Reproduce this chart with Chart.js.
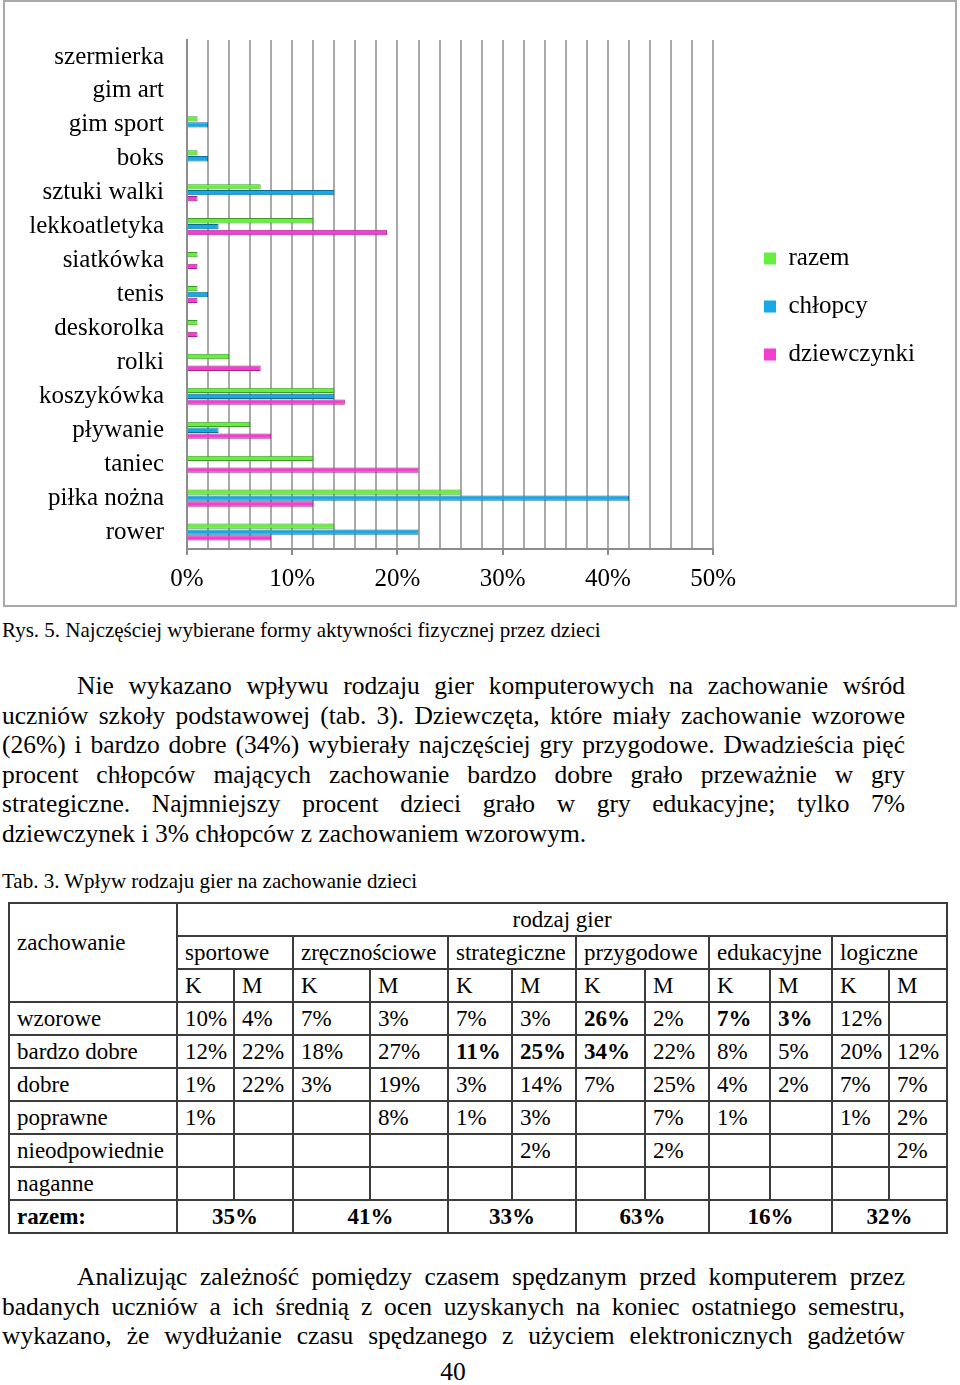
<!DOCTYPE html>
<html lang="pl">
<head>
<meta charset="utf-8">
<title>Rys. 5</title>
<script src="https://cdn.jsdelivr.net/npm/chart.js@4.4.1/dist/chart.umd.min.js"></script>
<style>
  body { margin: 0; background: #fff; }
  #strona { position: relative; width: 960px; height: 1385px; overflow: hidden; font-family: "Liberation Serif", "Times New Roman", serif; color: #000; }
  #ramka { position: absolute; left: 3px; top: 0; width: 954px; height: 607px; border: 2px solid #a9a9a9; box-sizing: border-box; }
  #wykres { display: block; }
  .podpis { position: absolute; left: 2px; font-size: 21px; line-height: 24px; white-space: nowrap; }
  .akapit { position: absolute; left: 2px; width: 903px; font-size: 25.5px; line-height: 29.6px; }
  .akapit .wiersz { text-align: justify; text-align-last: justify; }
  .akapit .pierwszy { padding-left: 75px; }
  .akapit .ostatni { text-align-last: left; }
  #tabela { position: absolute; left: 8px; top: 902px; width: 938px; border-collapse: collapse; table-layout: fixed; font-size: 23px; }
  #tabela td { border: 2px solid #3c3c3c; padding: 0 0 0 7px; height: 31px; white-space: nowrap; vertical-align: middle; }
  #tabela td.srodek { text-align: center; padding: 0; }
  #tabela td.gruby { font-weight: bold; }
  #tabela td.naglowek { padding-bottom: 20px; }
  #numer { position: absolute; left: 0; width: 906px; top: 1357px; text-align: center; font-size: 25.5px; line-height: 29.6px; }
</style>
</head>
<body>
<div id="strona">
  <div id="ramka"><canvas id="wykres" width="950" height="603"></canvas></div>

  <div class="podpis" style="top:618px">Rys. 5. Najczęściej wybierane formy aktywności fizycznej przez dzieci</div>

  <div class="akapit" style="top:671px">
    <div class="wiersz pierwszy">Nie wykazano wpływu rodzaju gier komputerowych na zachowanie wśród</div>
    <div class="wiersz">uczniów szkoły podstawowej (tab. 3). Dziewczęta, które miały zachowanie wzorowe</div>
    <div class="wiersz">(26%) i bardzo dobre (34%) wybierały najczęściej gry przygodowe. Dwadzieścia pięć</div>
    <div class="wiersz">procent chłopców mających zachowanie bardzo dobre grało przeważnie w gry</div>
    <div class="wiersz">strategiczne. Najmniejszy procent dzieci grało w gry edukacyjne; tylko 7%</div>
    <div class="wiersz ostatni">dziewczynek i 3% chłopców z zachowaniem wzorowym.</div>
  </div>

  <div class="podpis" style="top:869px">Tab. 3. Wpływ rodzaju gier na zachowanie dzieci</div>

  <table id="tabela">
    <colgroup>
      <col style="width:168px"><col style="width:57px"><col style="width:59px"><col style="width:77px"><col style="width:78px">
      <col style="width:64px"><col style="width:64px"><col style="width:69px"><col style="width:64px"><col style="width:61px">
      <col style="width:62px"><col style="width:57px"><col style="width:58px">
    </colgroup>
    <tbody id="tabela-cialo"></tbody>
  </table>

  <div class="akapit" style="top:1262px">
    <div class="wiersz pierwszy">Analizując zależność pomiędzy czasem spędzanym przed komputerem przez</div>
    <div class="wiersz">badanych uczniów a ich średnią z ocen uzyskanych na koniec ostatniego semestru,</div>
    <div class="wiersz">wykazano, że wydłużanie czasu spędzanego z użyciem elektronicznych gadżetów</div>
  </div>

  <div id="numer">40</div>
</div>

<script>
// Rys. 5 - dane wykresu
const kategorie = ["szermierka", "gim art", "gim sport", "boks", "sztuki walki", "lekkoatletyka", "siatkówka", "tenis", "deskorolka", "rolki", "koszykówka", "pływanie", "taniec", "piłka nożna", "rower"];
const razem =       [0, 0, 1, 1,  7, 12, 1, 1, 1, 4, 14, 6, 12, 26, 14];
const chlopcy =     [0, 0, 2, 2, 14,  3, 0, 2, 0, 0, 14, 3,  0, 42, 22];
const dziewczynki = [0, 0, 0, 0,  1, 19, 1, 1, 1, 7, 15, 8, 22, 12,  8];
const etykietyOsiX = ["0%", "10%", "20%", "30%", "40%", "50%"];

// Tab. 3 - dane tabeli
const rodzajeGier = ["sportowe", "zręcznościowe", "strategiczne", "przygodowe", "edukacyjne", "logiczne"];
const zachowania = ["wzorowe", "bardzo dobre", "dobre", "poprawne", "nieodpowiednie", "naganne"];
const wartosciTabeli = [
    ["10%", "4%", "7%", "3%", "7%", "3%", "26%", "2%", "7%", "3%", "12%", ""],
    ["12%", "22%", "18%", "27%", "11%", "25%", "34%", "22%", "8%", "5%", "20%", "12%"],
    ["1%", "22%", "3%", "19%", "3%", "14%", "7%", "25%", "4%", "2%", "7%", "7%"],
    ["1%", "", "", "8%", "1%", "3%", "", "7%", "1%", "", "1%", "2%"],
    ["", "", "", "", "", "2%", "", "2%", "", "", "", "2%"],
    ["", "", "", "", "", "", "", "", "", "", "", ""]
];
const pogrubione = [[6, 8, 9], [4, 5, 6], [], [], [], []];
const razemTabela = ["35%", "41%", "33%", "63%", "16%", "32%"];

const kolorRazem = "#66ef3e";
const kolorChlopcy = "#18a8e6";
const kolorDziewczynki = "#f23fcf";

let chart;

window.onload = aoCarregarPagina;

function aoCarregarPagina() {
    zbudujTabele();
    chart = zbudujWykres(document.querySelector("#wykres"));
}

function zbudujTabele() {
    let html = `<tr><td rowspan="3" class="naglowek">zachowanie</td><td colspan="12" class="srodek">rodzaj gier</td></tr>`;
    html += "<tr>" + rodzajeGier.map(r => `<td colspan="2">${r}</td>`).join("") + "</tr>";
    html += "<tr>" + rodzajeGier.map(() => "<td>K</td><td>M</td>").join("") + "</tr>";

    zachowania.forEach((z, i) => {
        html += `<tr><td>${z}</td>`;
        wartosciTabeli[i].forEach((w, j) => {
            const klasa = pogrubione[i].includes(j) ? ' class="gruby"' : "";
            html += `<td${klasa}>${w}</td>`;
        });
        html += "</tr>";
    });

    html += `<tr><td class="gruby">razem:</td>` + razemTabela.map(w => `<td colspan="2" class="srodek gruby">${w}</td>`).join("") + "</tr>";
    document.querySelector("#tabela-cialo").innerHTML = html;
}

// przesuwa legendę na jej miejsce z oryginału, obszar wykresu zostaje bez zmian
const ustawLegende = {
    id: "ustawLegende",
    afterLayout(wykres) {
        const legenda = wykres.legend;
        legenda.left = 736;
        legenda.right = 736 + legenda.width;
        legenda.top = 221;
        legenda.bottom = 221 + 167;
        legenda.height = 167;
    }
};

function zbudujWykres(ctx) {
    Chart.defaults.font.family = '"Liberation Serif", "Times New Roman", serif';
    Chart.defaults.color = "#000";

    const datasets = [
        { label: "razem", data: razem, backgroundColor: kolorRazem, borderColor: "#3d9a24" },
        { label: "chłopcy", data: chlopcy, backgroundColor: kolorChlopcy, borderColor: "#0c6c98" },
        { label: "dziewczynki", data: dziewczynki, backgroundColor: kolorDziewczynki, borderColor: "#a3248a" }
    ].map(d => ({ ...d, borderWidth: 1, barPercentage: 0.9, categoryPercentage: 0.52 }));

    return new Chart(ctx, {
        type: "bar",
        data: { labels: kategorie, datasets: datasets },
        plugins: [ustawLegende],
        options: {
            indexAxis: "y",
            responsive: false,
            animation: false,
            layout: { padding: { top: 33, right: 58, bottom: 0, left: 0 } },
            plugins: {
                tooltip: { enabled: false },
                legend: {
                    position: "right",
                    labels: {
                        boxWidth: 12,
                        boxHeight: 12,
                        padding: 23,
                        font: { size: 25 },
                        color: "#000",
                        generateLabels: (c) => Chart.defaults.plugins.legend.labels.generateLabels(c).map(l => ({ ...l, lineWidth: 0, strokeStyle: "transparent" }))
                    }
                }
            },
            scales: {
                x: {
                    min: 0,
                    max: 50,
                    afterFit: (skala) => { skala.height = 56; },
                    ticks: {
                        stepSize: 2,
                        autoSkip: false,
                        maxRotation: 0,
                        padding: 9,
                        font: { size: 25 },
                        callback: (v) => v % 10 === 0 ? etykietyOsiX[v / 10] : ""
                    },
                    grid: {
                        color: "#aaaaaa",
                        lineWidth: 2,
                        tickLength: 6,
                        tickColor: (c) => c.tick && c.tick.value % 10 === 0 ? "#8c8c8c" : "transparent"
                    },
                    border: { color: "#8c8c8c", width: 2 }
                },
                y: {
                    afterFit: (skala) => { skala.width = 182; },
                    ticks: { autoSkip: false, padding: 23, font: { size: 25 } },
                    grid: { display: false, drawTicks: false },
                    border: { display: true, color: "#8c8c8c", width: 2 }
                }
            }
        }
    });
}
</script>
</body>
</html>
